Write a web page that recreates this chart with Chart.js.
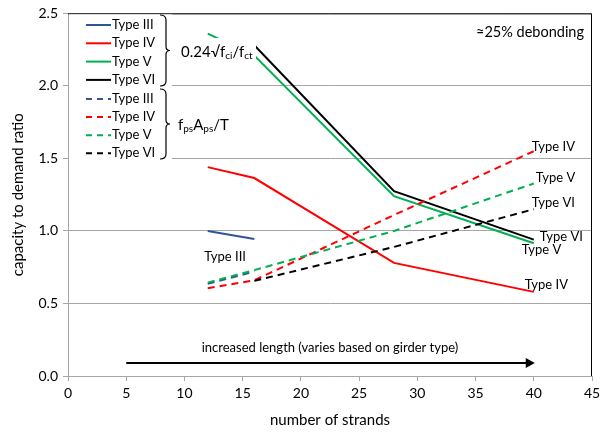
<!DOCTYPE html>
<html>
<head>
<meta charset="utf-8">
<script src="https://cdn.jsdelivr.net/npm/chart.js@4.4.1/dist/chart.umd.min.js"></script>
<style>
  html, body { margin: 0; padding: 0; background: #fff; }
  #wrap { width: 610px; height: 435px; position: relative; }
</style>
</head>
<body>
<div id="wrap"><canvas id="chart"></canvas></div>
<script>
// number of strands per girder type
const strandsIII = [12, 16];
const strandsIV = [12, 16, 28, 40];
const strandsV = [12, 16, 28, 40];
const strandsVI = [16, 28, 40];

// capacity to demand ratio, 0.24√f'ci / f'ct
const tensionIII = [1.00, 0.945];
const tensionIV = [1.44, 1.365, 0.78, 0.58];
const tensionV = [2.36, 2.21, 1.24, 0.915];
const tensionVI = [2.28, 1.275, 0.94];

// capacity to demand ratio, fps Aps / T
const strandIII = [0.635, 0.72];
const strandIV = [0.605, 0.66, 1.11, 1.55];
const strandV = [0.644, 0.73, 1.0, 1.327];
const strandVI = [0.656, 0.89, 1.15];

const typeNames = ['Type III', 'Type IV', 'Type V', 'Type VI'];
const typeColors = ['#2F5597', '#FF0000', '#00B050', '#000000'];

const FONT = 'Lato, "Open Sans", sans-serif';

const toPoints = (xs, ys) => xs.map((v, i) => ({ x: v, y: ys[i] }));

const solidSets = [
    toPoints(strandsIII, tensionIII),
    toPoints(strandsIV, tensionIV),
    toPoints(strandsV, tensionV),
    toPoints(strandsVI, tensionVI),
];
const dashedSets = [
    toPoints(strandsIII, strandIII),
    toPoints(strandsIV, strandIV),
    toPoints(strandsV, strandV),
    toPoints(strandsVI, strandVI),
];

const datasets = [];
solidSets.forEach((pts, i) => datasets.push({ label: typeNames[i], data: pts, borderColor: typeColors[i], dash: [] }));
dashedSets.forEach((pts, i) => datasets.push({ label: typeNames[i], data: pts, borderColor: typeColors[i], dash: [7, 5] }));
datasets.forEach((d, i) => {
    d.showLine = true;
    d.borderWidth = 2;
    d.pointRadius = 0;
    d.borderDash = d.dash;
    d.fill = false;
    d.order = datasets.length - i;   // later series painted on top
});

// labels at series ends: [dataset index, point index, dx, dy]
const endLabels = [
    [0, 1, -50, 18],
    [5, 3, -2, -4],
    [6, 3, 2, -6],
    [7, 2, -2, -6],
    [3, 2, 6, -3],
    [2, 3, -12, 7],
    [1, 3, -9, -7],
];

function drawBrace(ctx, x, top, bottom) {
    const mid = (top + bottom) / 2;
    ctx.beginPath();
    ctx.moveTo(x - 6, top);
    ctx.quadraticCurveTo(x, top, x, top + 5);
    ctx.lineTo(x, mid - 4);
    ctx.quadraticCurveTo(x, mid, x + 4, mid);
    ctx.quadraticCurveTo(x, mid, x, mid + 4);
    ctx.lineTo(x, bottom - 5);
    ctx.quadraticCurveTo(x, bottom, x - 6, bottom);
    ctx.stroke();
}

// draws text pieces left to right, subscripts smaller and lowered
function drawRich(ctx, parts, x, y) {
    parts.forEach(([txt, sub]) => {
        ctx.font = (sub ? '10px ' : '15px ') + FONT;
        ctx.fillText(txt, x, sub ? y + 4 : y);
        x += ctx.measureText(txt).width;
    });
}

const overlay = {
    id: 'overlay',
    afterDatasetsDraw(chart) {
        const { ctx, chartArea: a, scales: { x, y } } = chart;
        ctx.save();

        // plot frame, top and right
        ctx.strokeStyle = '#000';
        ctx.lineWidth = 1;
        ctx.beginPath();
        ctx.moveTo(a.left, a.top + 0.5);
        ctx.lineTo(a.right - 0.5, a.top + 0.5);
        ctx.lineTo(a.right - 0.5, a.bottom);
        ctx.stroke();

        // legend panel
        ctx.fillStyle = '#fff';
        ctx.fillRect(a.left + 1, a.top + 1, 171 - a.left, 164 - a.top);

        ctx.textBaseline = 'middle';
        ctx.textAlign = 'left';
        for (let i = 0; i < 8; i++) {
            const ry = i < 4 ? 25 + i * 18.3 : 99 + (i - 4) * 18.1;
            const ds = datasets[i];
            ctx.strokeStyle = ds.borderColor;
            ctx.lineWidth = 2;
            ctx.setLineDash(i < 4 ? [] : [6, 5]);
            ctx.beginPath();
            ctx.moveTo(86, ry);
            ctx.lineTo(111, ry);
            ctx.stroke();
            ctx.setLineDash([]);
            ctx.fillStyle = '#000';
            ctx.font = '13px ' + FONT;
            ctx.fillText(ds.label, 112, ry);
        }

        ctx.strokeStyle = '#000';
        ctx.lineWidth = 1.2;
        drawBrace(ctx, 166, 15, 86);
        drawBrace(ctx, 166, 89, 159);

        // formula boxes
        ctx.fillStyle = '#fff';
        ctx.fillRect(174, 38, 82, 28);
        ctx.fillStyle = '#000';
        drawRich(ctx, [['0.24√f', false], ['ci', true], ['/f', false], ['ct', true]], 181, 52);
        drawRich(ctx, [['f', false], ['ps', true], ['A', false], ['ps', true], ['/T', false]], 178, 125);

        // series end labels
        ctx.font = '13px ' + FONT;
        endLabels.forEach(([di, pi, dx, dy]) => {
            const p = datasets[di].data[pi];
            ctx.fillText(datasets[di].label, x.getPixelForValue(p.x) + dx, y.getPixelForValue(p.y) + dy);
        });

        ctx.font = '14.5px ' + FONT;
        ctx.textAlign = 'right';
        ctx.fillText('≈25% debonding', 584, 32);

        // length arrow
        const ax0 = x.getPixelForValue(5), ax1 = x.getPixelForValue(40);
        const ay = y.getPixelForValue(0.09);
        ctx.strokeStyle = '#000';
        ctx.lineWidth = 2;
        ctx.beginPath();
        ctx.moveTo(ax0, ay);
        ctx.lineTo(ax1 - 4, ay);
        ctx.stroke();
        ctx.fillStyle = '#000';
        ctx.beginPath();
        ctx.moveTo(ax1 + 1, ay);
        ctx.lineTo(ax1 - 8, ay - 5);
        ctx.lineTo(ax1 - 8, ay + 5);
        ctx.closePath();
        ctx.fill();
        ctx.font = '13px ' + FONT;
        ctx.textAlign = 'center';
        ctx.fillText('increased length (varies based on girder type)', (ax0 + ax1) / 2, ay - 15);

        ctx.restore();
    }
};

new Chart(document.getElementById('chart'), {
    type: 'scatter',
    data: { datasets },
    options: {
        responsive: true,
        maintainAspectRatio: false,
        animation: false,
        layout: { padding: { top: 10, right: 18, left: 0, bottom: 0 } },
        plugins: { legend: { display: false }, tooltip: { enabled: false } },
        scales: {
            x: {
                type: 'linear', min: 0, max: 45,
                ticks: { stepSize: 5, color: '#000', font: { family: FONT, size: 14 }, padding: 4 },
                grid: { drawOnChartArea: false, color: '#a6a6a6', tickLength: 5 },
                border: { color: '#a6a6a6' },
                title: { display: true, text: 'number of strands', color: '#000', font: { family: FONT, size: 15 }, padding: { top: 0, bottom: 6 } },
                afterFit: s => { s.height = 59; }
            },
            y: {
                min: 0, max: 2.5,
                ticks: { stepSize: 0.5, color: '#000', font: { family: FONT, size: 14 }, padding: 5, callback: v => v.toFixed(1) },
                grid: { color: '#a6a6a6', tickLength: 5 },
                border: { color: '#a6a6a6' },
                title: { display: true, text: 'capacity to demand ratio', color: '#000', font: { family: FONT, size: 15 }, padding: { top: 9, bottom: 0 } },
                afterFit: s => { s.width = 68; }
            }
        }
    },
    plugins: [overlay]
});
</script>
</body>
</html>
